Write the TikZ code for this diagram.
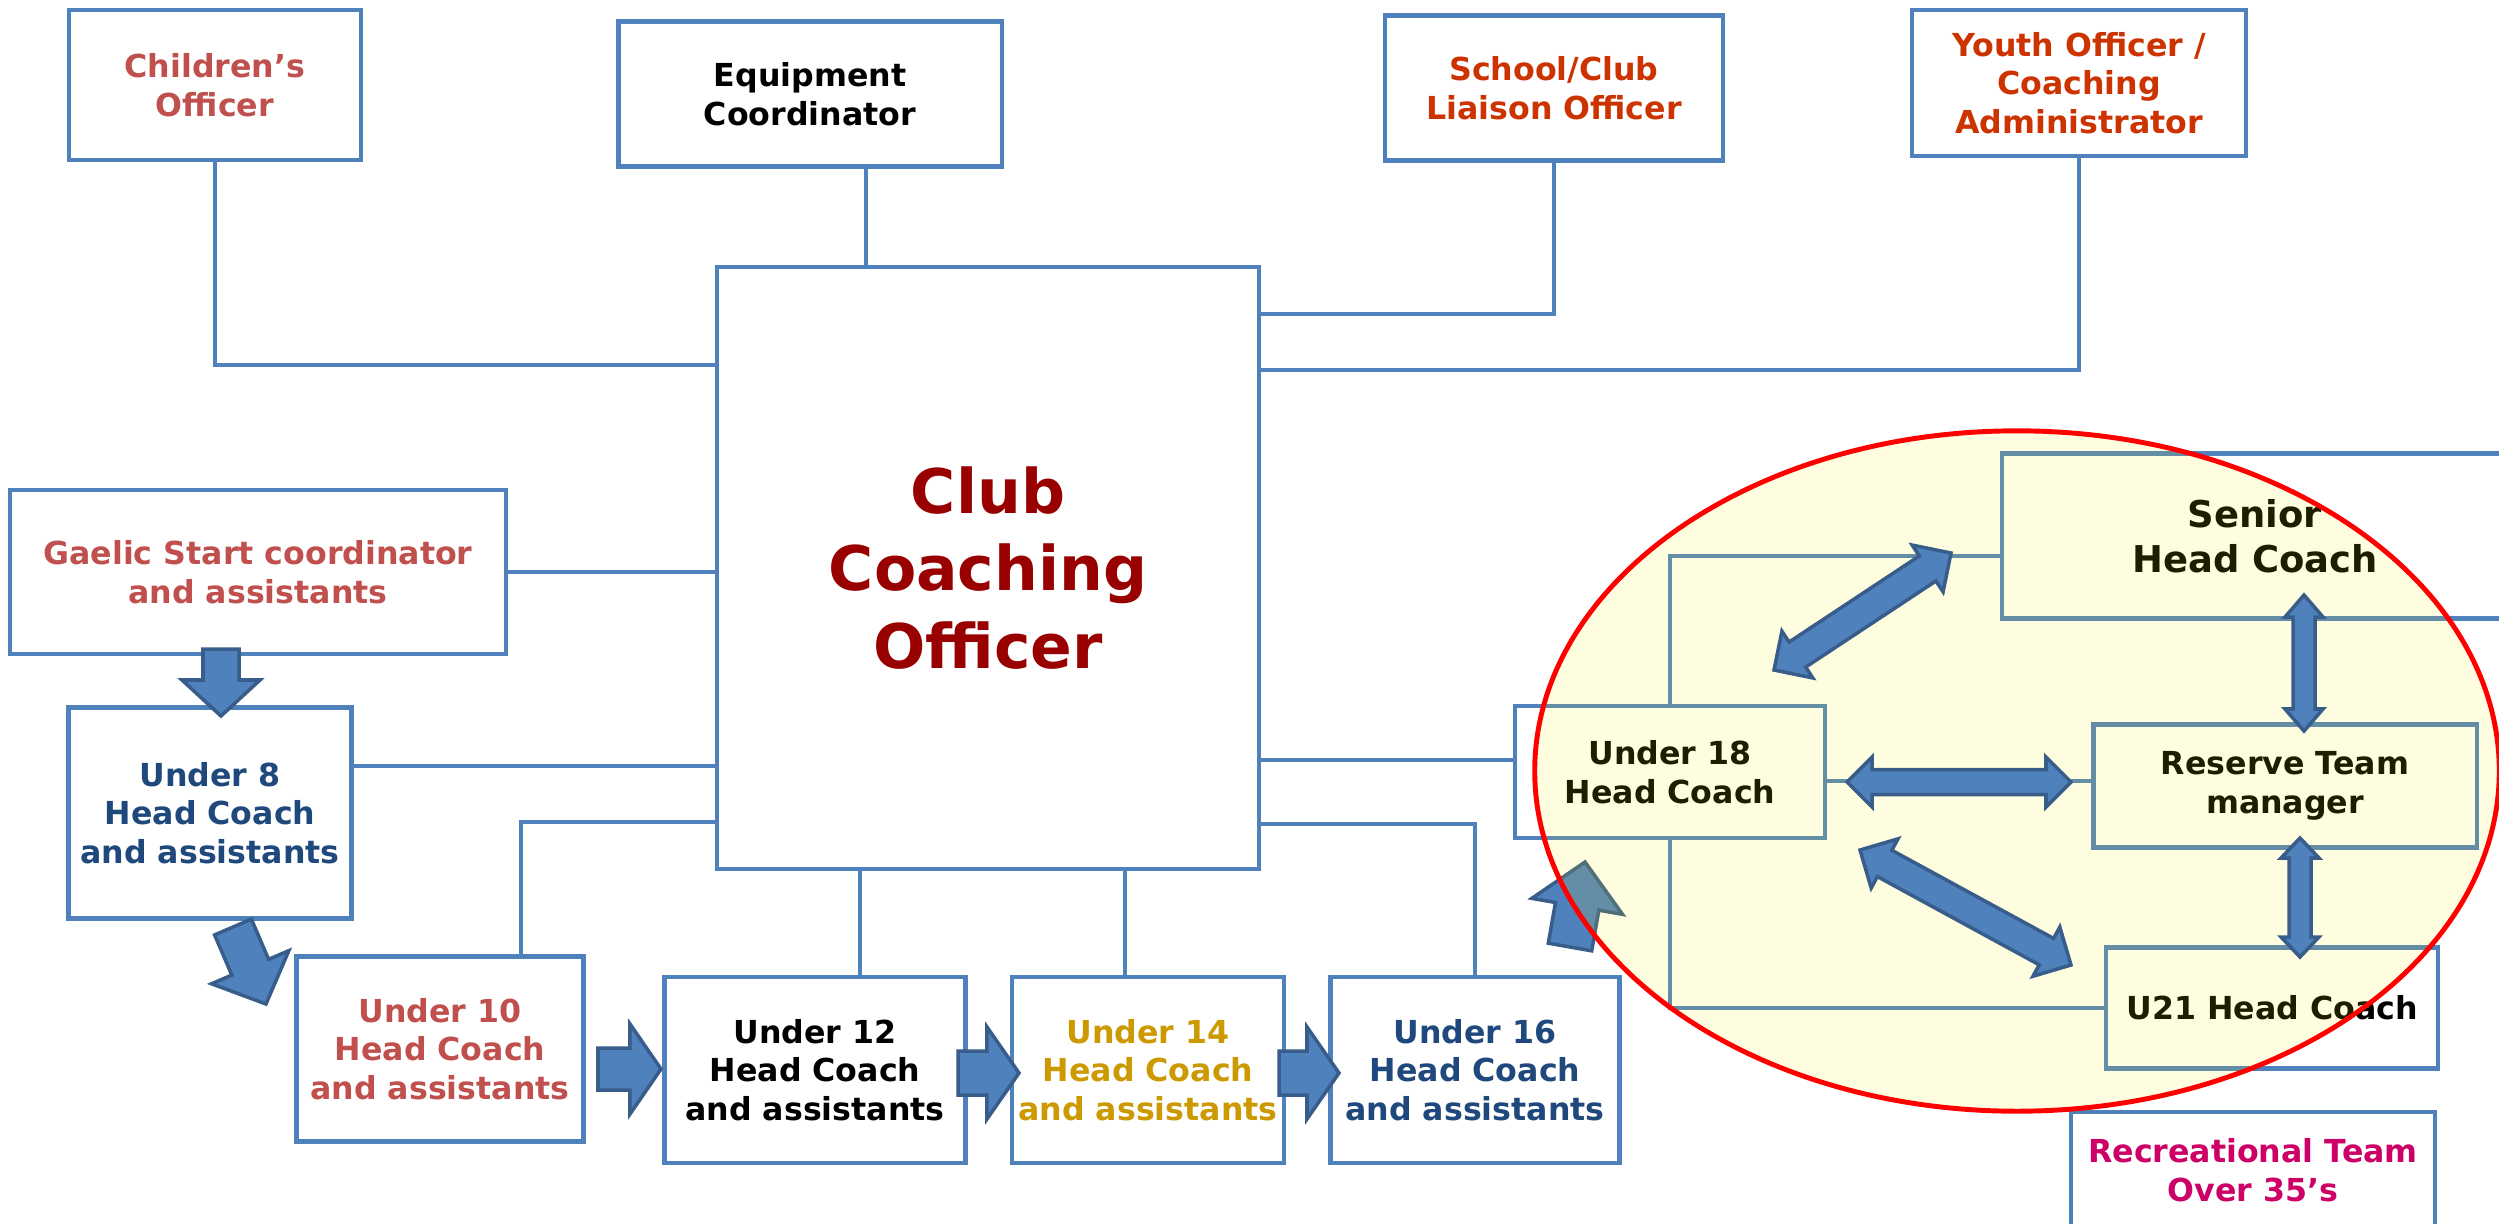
\documentclass[tikz,border=0pt]{standalone}
\usepackage{fontspec}
\usepackage{tikz}
\usetikzlibrary{calc,positioning}
\newfontfamily\dejavu{DejaVu Sans}
\definecolor{boxblue}{HTML}{4F81BD}
\definecolor{arrowedge}{HTML}{385D8A}
\definecolor{rosered}{HTML}{C0504D}
\definecolor{rust}{HTML}{CC3300}
\definecolor{navy}{HTML}{1F497D}
\definecolor{gold}{HTML}{CC9900}
\definecolor{maroon}{HTML}{990000}
\definecolor{recpink}{HTML}{CC0066}
\tikzset{
  box/.style={draw=boxblue, line width=1.2pt, fill=white, align=center, inner sep=0pt,
    font=\dejavu\bfseries\fontsize{9}{11}\selectfont},
  link/.style={draw=boxblue, line width=1.1pt},
  blockarrow/.style={fill=boxblue, draw=arrowedge, line width=1pt, line join=miter},
}
% fat arrows: [style]{from}{to}{shaft half width}{head half width}{head length}
\newcommand{\fatarrow}[6][]{%
  \filldraw[blockarrow,#1] ($#2!#4!90:#3$) -- ($#3!#6!#2!#4!-90:#2$) -- ($#3!#6!#2!#5!-90:#2$)
    -- #3 -- ($#3!#6!#2!#5!90:#2$) -- ($#3!#6!#2!#4!90:#2$) -- ($#2!#4!-90:#3$) -- cycle;}
\newcommand{\fatdarrow}[6][]{%
  \filldraw[blockarrow,#1] #2 -- ($#2!#6!#3!#5!90:#3$) -- ($#2!#6!#3!#4!90:#3$)
    -- ($#3!#6!#2!#4!-90:#2$) -- ($#3!#6!#2!#5!-90:#2$) -- #3 -- ($#3!#6!#2!#5!90:#2$)
    -- ($#3!#6!#2!#4!90:#2$) -- ($#2!#6!#3!#4!-90:#3$) -- ($#2!#6!#3!#5!-90:#3$) -- cycle;}
\begin{document}
\begin{tikzpicture}[x=0.01cm, y=-0.01cm]
    \useasboundingbox (0,0) rectangle (2499,1223);
    \clip (0,0) rectangle (2499,1223);
    \path
        (215,85)    node[box, text=rosered, minimum width=2.92cm, minimum height=1.5cm] (chof) {Children’s\\Officer}
        (810,94)    node[box, minimum width=3.83cm, minimum height=1.45cm] (equip) {Equipment\\Coordinator}
        (1554,88)   node[box, text=rust, minimum width=3.38cm, minimum height=1.45cm] (school) {School/Club\\Liaison Officer}
        (2079,83)   node[box, text=rust, minimum width=3.34cm, minimum height=1.46cm] (youth) {Youth Officer /\\Coaching\\Administrator}
        (988,568)   node[box, text=maroon, minimum width=5.42cm, minimum height=6.01cm,
                         font=\dejavu\bfseries\fontsize{17.5}{22}\selectfont] (cco) {Club\\Coaching\\Officer}
        (258,572)   node[box, text=rosered, minimum width=4.96cm, minimum height=1.64cm] (gaelic) {Gaelic Start coordinator\\and assistants}
        (210,813)   node[box, text=navy, minimum width=2.83cm, minimum height=2.11cm] (u8) {Under 8\\Head Coach\\and assistants}
        (440,1049)  node[box, text=rosered, minimum width=2.87cm, minimum height=1.85cm] (u10) {Under 10\\Head Coach\\and assistants}
        (815,1070)  node[box, minimum width=3.01cm, minimum height=1.86cm] (u12) {Under 12\\Head Coach\\and assistants}
        (1148,1070) node[box, text=gold, minimum width=2.72cm, minimum height=1.86cm] (u14) {Under 14\\Head Coach\\and assistants}
        (1475,1070) node[box, text=navy, minimum width=2.89cm, minimum height=1.86cm] (u16) {Under 16\\Head Coach\\and assistants}
        (1670,772)  node[box, minimum width=3.1cm, minimum height=1.32cm] (u18) {Under 18\\Head Coach}
        (2255,536)  node[box, minimum width=5.06cm, minimum height=1.65cm,
                         font=\dejavu\bfseries\fontsize{10.5}{12.8}\selectfont] (senior) {Senior\\Head Coach}
        (2285,786)  node[box, minimum width=3.83cm, minimum height=1.23cm] (reserve) {Reserve Team\\manager}
        (2272,1008) node[box, minimum width=3.32cm, minimum height=1.21cm] (u21) {U21 Head Coach}
        (2253,1170) node[box, text=recpink, minimum width=3.64cm, minimum height=1.16cm] (recr) {Recreational Team\\Over 35’s}
        ;
    \draw[link] (chof.south) |- ([yshift=-1cm]cco.north west);
    \draw[link] ([xshift=.56cm]equip.south) -- ([xshift=.56cm]equip.south |- cco.north);
    \draw[link] (school.south) |- ([yshift=-.49cm]cco.north east);
    \draw[link] (youth.south) |- ([yshift=-1.05cm]cco.north east);
    \draw[link] (gaelic.east) -- (gaelic.east -| cco.west);
    \draw[link] ([yshift=-.61cm]u8.north east) -- ([yshift=-.61cm]u8.north east -| cco.west);
    \draw[link] ([xshift=-.65cm]u10.north east) |- ([yshift=.49cm]cco.south west);
    \draw[link] ([xshift=.45cm]u12.north) -- ([xshift=.45cm]u12.north |- cco.south);
    \draw[link] ([xshift=-.23cm]u14.north) -- ([xshift=-.23cm]u14.north |- cco.south);
    \draw[link] (u16.north) |- ([yshift=.47cm]cco.south east);
    \draw[link] ([yshift=.12cm]u18.west) -- ([yshift=.12cm]u18.west -| cco.east);
    \draw[link] (u18.north) |- ([yshift=-.2cm]senior.west);
    \draw[link] (u18.south) |- (u21.west);
    \draw[link] ([yshift=-.09cm]u18.east) -- ([yshift=-.09cm]u18.east -| reserve.west);
    % ends of the fat arrows
    \coordinate (g8a) at (221,649);   \coordinate (g8b) at (221,716);
    \coordinate (u810a) at (233,927); \coordinate (u810b) at (266,1004);
    \coordinate (u1012a) at (598,1069); \coordinate (u1012b) at (661,1069);
    \coordinate (u1214a) at (958,1073); \coordinate (u1214b) at (1019,1073);
    \coordinate (u1416a) at (1279,1073); \coordinate (u1416b) at (1339,1073);
    \coordinate (u1618a) at (1570,947); \coordinate (u1618b) at (1585,862);
    \fatarrow{(g8a)}{(g8b)}{.18cm}{.39cm}{.36cm}
    \fatarrow{(u810a)}{(u810b)}{.2cm}{.42cm}{.4cm}
    \fatarrow{(u1012a)}{(u1012b)}{.21cm}{.45cm}{.31cm}
    \fatarrow{(u1214a)}{(u1214b)}{.22cm}{.46cm}{.32cm}
    \fatarrow{(u1416a)}{(u1416b)}{.22cm}{.46cm}{.32cm}
    \fatarrow{(u1618a)}{(u1618b)}{.22cm}{.46cm}{.45cm}
    % senior section
    \fill[yellow, fill opacity=.12] (2017,771) ellipse [x radius=4.82cm, y radius=3.4cm];
    \draw[red, line width=1.4pt] (2017,771) ellipse [x radius=4.82cm, y radius=3.4cm];
    \coordinate (sa) at (1774,670);  \coordinate (sb) at (1951,553);
    \coordinate (ra) at (1847,782);  \coordinate (rb) at (2071,782);
    \coordinate (ta) at (1860,850);  \coordinate (tb) at (2071,965);
    \coordinate (va) at (2304,595);  \coordinate (vb) at (2304,731);
    \coordinate (wa) at (2300,838);  \coordinate (wb) at (2300,957);
    \fatdarrow{(sa)}{(sb)}{.15cm}{.28cm}{.28cm}
    \fatdarrow{(ra)}{(rb)}{.125cm}{.25cm}{.25cm}
    \fatdarrow{(ta)}{(tb)}{.15cm}{.28cm}{.28cm}
    \fatdarrow{(va)}{(vb)}{.11cm}{.19cm}{.22cm}
    \fatdarrow{(wa)}{(wb)}{.11cm}{.19cm}{.2cm}
\end{tikzpicture}
\end{document}
